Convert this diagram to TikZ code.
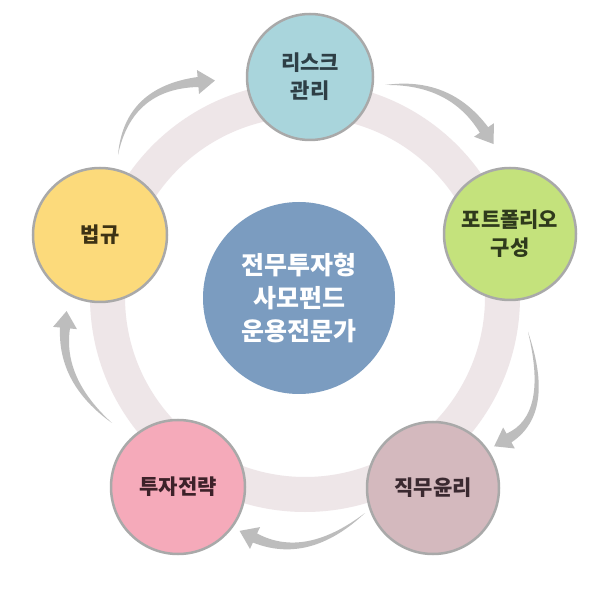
\documentclass[tikz,border=0pt]{standalone}
\usepackage{fontspec}
\newfontfamily\kr{Noto Sans CJK KR}
\usetikzlibrary{calc}
\definecolor{ringc}{HTML}{EEE6E8}
\definecolor{arrowc}{HTML}{BDBDBD}
\definecolor{edgec}{HTML}{A9A9A9}
\definecolor{riskf}{HTML}{A9D5DC}
\definecolor{riskt}{HTML}{2E3F46}
\definecolor{portf}{HTML}{C4E27C}
\definecolor{portt}{HTML}{2F3A1C}
\definecolor{ethf}{HTML}{D4B9BE}
\definecolor{etht}{HTML}{3A2930}
\definecolor{stratf}{HTML}{F5AABA}
\definecolor{stratt}{HTML}{3D2129}
\definecolor{lawf}{HTML}{FCDA7B}
\definecolor{lawt}{HTML}{3D3214}
\definecolor{centf}{HTML}{7B9CC0}
\newcommand\cyclearrow[3]{%
  \coordinate (arS) at #1;
  \coordinate (arC) at #2;
  \coordinate (arB) at #3;
  \coordinate (arBo) at ($(arB)!5pt!90:(arC)$);
  \coordinate (arBi) at ($(arB)!5pt!-90:(arC)$);
  \coordinate (arCo) at ($(arC)!4pt!90:(arS)$);
  \coordinate (arCi) at ($(arC)!4pt!-90:(arS)$);
  \coordinate (arHo) at ($(arB)!12pt!90:(arC)$);
  \coordinate (arHi) at ($(arB)!12pt!-90:(arC)$);
  \coordinate (arT) at ($(arB)!17pt!180:(arC)$);
  \fill[arrowc] (arS) .. controls ($(arS)!0.6667!(arCo)$) and ($(arBo)!0.6667!(arCo)$) .. (arBo)
    -- (arHo) -- (arT) -- (arHi) -- (arBi)
    .. controls ($(arBi)!0.6667!(arCi)$) and ($(arS)!0.6667!(arCi)$) .. (arS) -- cycle;
}
\tikzset{
  topic/.style={circle, draw=edgec, line width=2.5pt, inner sep=0pt, minimum size=130pt,
    align=center, font=\kr\bfseries\fontsize{21}{28}\selectfont},
  hub/.style={circle, fill=centf, inner sep=0pt, minimum size=192pt, align=center,
    text=white, font=\kr\bfseries\fontsize{25}{33}\selectfont}
}
\begin{document}
\begin{tikzpicture}[x=1pt,y=-1pt]
\useasboundingbox (0,0) rectangle (600,593);
\fill[white] (0,0) rectangle (600,593);
% ring
\draw[ringc, line width=35pt] (305,297) circle[radius=197.5pt];
% arrows
\cyclearrow{(118,155)}{(128,88)}{(198,82)}
\cyclearrow{(385,85)}{(450,80)}{(484,130)}
\cyclearrow{(528,332)}{(552,414)}{(509,438)}
\cyclearrow{(365,513)}{(307,562)}{(255,538)}
\cyclearrow{(112,423)}{(60,381)}{(65,328)}
% hub
\node[hub] (hub) at (299,298) {전무투자형\\사모펀드\\운용전문가};
% topics
\node[topic, fill=riskf, text=riskt, minimum size=126pt] (risk) at (310,77) {리스크\\관리};
\node[topic, fill=portf, text=portt, minimum size=132pt] (port) at (510,234) {포트폴리오\\구성};
\node[topic, fill=ethf, text=etht, minimum size=132pt] (eth) at (433,488) {직무윤리};
\node[topic, fill=stratf, text=stratt, minimum size=134pt] (strat) at (178,487) {투자전략};
\node[topic, fill=lawf, text=lawt, minimum size=134pt] (law) at (100,235) {법규};
\end{tikzpicture}
\end{document}
